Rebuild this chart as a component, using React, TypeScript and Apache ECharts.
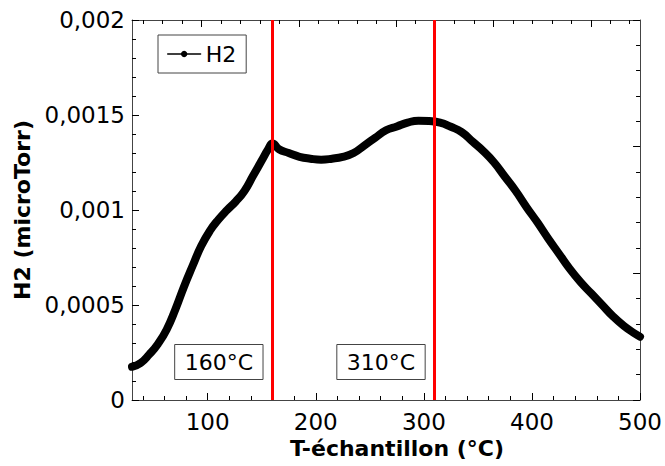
import React, { useEffect, useRef } from 'react';
import * as echarts from 'echarts';

// Sample temperature (°C) and H2 partial pressure (microTorr)
const temperature = [30, 38, 46, 54, 62, 70, 78, 86, 94, 102, 110, 118, 126, 134, 142, 150, 156, 160, 166, 175, 185, 195, 205, 215, 225, 235, 245, 255, 265, 275, 285, 295, 305, 315, 325, 335, 345, 355, 365, 375, 385, 395, 405, 415, 425, 435, 445, 455, 465, 475, 485, 495, 500];
const h2 = [0.000175, 0.000195, 0.00024, 0.000295, 0.00037, 0.000475, 0.000595, 0.000705, 0.00081, 0.00089, 0.00095, 0.001, 0.001045, 0.0011, 0.00118, 0.00126, 0.00132, 0.00135, 0.00132, 0.0013, 0.00128, 0.00127, 0.001265, 0.00127, 0.00128, 0.0013, 0.00134, 0.00138, 0.00142, 0.00144, 0.00146, 0.00147, 0.001468, 0.00146, 0.001438, 0.00141, 0.00136, 0.00131, 0.00125, 0.001175, 0.0011, 0.001015, 0.000935, 0.00085, 0.00077, 0.00069, 0.00062, 0.00056, 0.0005, 0.00044, 0.00039, 0.00035, 0.000333];

const xMajorTicks = [100, 200, 300, 400, 500];
const xMinorTicks = [40, 60, 80, 120, 140, 160, 180, 220, 240, 260, 280, 320, 340, 360, 380, 420, 440, 460, 480];
const yTicks = [0, 0.0005, 0.001, 0.0015, 0.002];
const yTickLabels = ['0', '0,0005', '0,001', '0,0015', '0,002'];
const topMajorTicks = [0, 10, 20, 30, 40];
const topMinorTicks = [-6, -4, -2, 2, 4, 6, 8, 12, 14, 16, 18, 22, 24, 26, 28, 32, 34, 36, 38, 42, 44];

const markerTemps = [160, 310];
const markerLabels = ['160°C', '310°C'];
const markerLabelLevel = 0.0002;

const FONT = 'DejaVu Sans';
const AXIS_COLOR = '#444';

export default function App() {
  const ref = useRef<HTMLDivElement>(null);
  useEffect(() => {
    if (!ref.current) return;
    const chart = echarts.init(ref.current, undefined, { renderer: 'svg' });
    const tickStyle = { color: '#000', width: 1 };
    const frameLine = { show: true, onZero: false, lineStyle: { color: AXIS_COLOR } };
    chart.setOption({
      animation: false,
      grid: { left: 132, right: 24, top: 20, bottom: 66, containLabel: false },
      legend: {
        data: ['H2'],
        left: 158,
        top: 35,
        padding: [8, 10, 8, 9],
        borderColor: AXIS_COLOR,
        borderWidth: 1,
        itemWidth: 33,
        itemHeight: 8,
        textStyle: { fontFamily: FONT, fontSize: 22, color: '#000' },
        lineStyle: { width: 1.3, color: '#000' },
        itemStyle: { color: '#000' },
        selectedMode: false,
      },
      xAxis: [
        {
          type: 'value', position: 'bottom', min: 30, max: 500,
          axisLine: frameLine,
          axisTick: { show: true, inside: true, length: 7, customValues: xMajorTicks, lineStyle: tickStyle },
          axisLabel: { show: true, customValues: xMajorTicks, fontFamily: FONT, fontSize: 23, color: '#000', margin: 10 },
          splitLine: { show: false },
          name: 'T-échantillon (°C)',
          nameLocation: 'middle',
          nameGap: 31,
          nameTextStyle: { fontFamily: FONT, fontSize: 22, fontWeight: 'bold', color: '#000', padding: [0, 0, 0, 22] },
        },
        {
          type: 'value', position: 'bottom', min: 30, max: 500,
          axisLine: { show: false, onZero: false },
          axisTick: { show: true, inside: true, length: 4, customValues: xMinorTicks, lineStyle: tickStyle },
          axisLabel: { show: false },
          splitLine: { show: false },
        },
        {
          type: 'value', position: 'top', min: -7.15, max: 45.06,
          axisLine: frameLine,
          axisTick: { show: true, inside: true, length: 7, customValues: topMajorTicks, lineStyle: tickStyle },
          axisLabel: { show: false },
          splitLine: { show: false },
        },
        {
          type: 'value', position: 'top', min: -7.15, max: 45.06,
          axisLine: { show: false, onZero: false },
          axisTick: { show: true, inside: true, length: 4, customValues: topMinorTicks, lineStyle: tickStyle },
          axisLabel: { show: false },
          splitLine: { show: false },
        },
      ],
      yAxis: [
        {
          type: 'value', position: 'left', min: 0, max: 0.002, interval: 0.0005,
          axisLine: frameLine,
          axisTick: { show: true, inside: true, length: 7, lineStyle: tickStyle },
          minorTick: { show: true, splitNumber: 5, length: 4, lineStyle: tickStyle },
          splitLine: { show: false },
          minorSplitLine: { show: false },
          axisLabel: {
            fontFamily: FONT, fontSize: 23, color: '#000', margin: 7,
            formatter: (v: number) => {
              const i = yTicks.findIndex((t) => Math.abs(t - v) < 1e-9);
              return i >= 0 ? yTickLabels[i] : '';
            },
          },
          name: 'H2 (microTorr)',
          nameLocation: 'middle',
          nameGap: 95,
          nameTextStyle: { fontFamily: FONT, fontSize: 22, fontWeight: 'bold', color: '#000' },
        },
        {
          type: 'value', position: 'right', min: 0, max: 3, interval: 1,
          axisLine: frameLine,
          axisTick: { show: true, inside: true, length: 7, lineStyle: tickStyle },
          minorTick: { show: true, splitNumber: 5, length: 4, lineStyle: tickStyle },
          splitLine: { show: false },
          minorSplitLine: { show: false },
          axisLabel: { show: false },
        },
      ],
      series: [
        {
          name: 'H2',
          type: 'line',
          xAxisIndex: 0,
          yAxisIndex: 0,
          data: temperature.map((t, i) => [t, h2[i]]),
          symbol: 'circle',
          symbolSize: 7,
          showSymbol: false,
          smooth: 0.5,
          lineStyle: { color: '#000', width: 8, cap: 'round', join: 'round' },
          itemStyle: { color: '#000' },
          emphasis: { disabled: true },
          z: 2,
          markLine: {
            silent: true,
            symbol: ['none', 'none'],
            label: { show: false },
            lineStyle: { color: '#ff0000', width: 3, type: 'solid' },
            emphasis: { disabled: true },
            data: markerTemps.map((t) => ({ xAxis: t })),
            z: 5,
          },
        },
        {
          name: 'annotations',
          type: 'scatter',
          xAxisIndex: 0,
          yAxisIndex: 0,
          data: markerTemps.map((t) => [t, markerLabelLevel]),
          symbol: 'circle',
          symbolSize: 1,
          itemStyle: { color: 'rgba(0,0,0,0)', opacity: 1 },
          emphasis: { disabled: true },
          silent: true,
          label: {
            show: true,
            position: 'left',
            distance: 9,
            formatter: (p: any) => markerLabels[p.dataIndex],
            fontFamily: FONT,
            fontSize: 22,
            color: '#000',
            borderColor: AXIS_COLOR,
            borderWidth: 1,
            padding: [7, 10, 6, 10],
          },
        },
      ],
    });
    return () => chart.dispose();
  }, []);
  return <div ref={ref} style={{ position: 'absolute', left: 0, top: 0, width: 665, height: 466 }} />;
}
